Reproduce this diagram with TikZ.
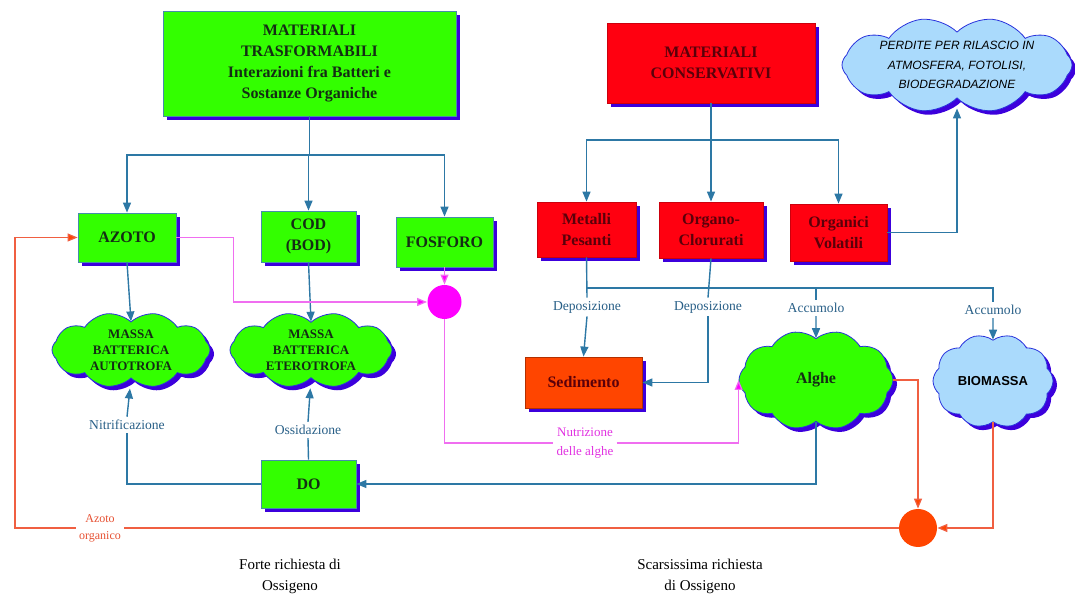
\documentclass[tikz,border=0pt]{standalone}
\usepackage{fontspec}
\setmainfont{Liberation Serif}
\newfontfamily\sansfont{Liberation Sans}
\usetikzlibrary{shapes.symbols,shadows,arrows.meta}

\definecolor{verde}{RGB}{51,255,0}
\definecolor{rosso}{RGB}{255,0,16}
\definecolor{arancio}{RGB}{255,69,0}
\definecolor{celeste}{RGB}{170,218,252}
\definecolor{ombra}{RGB}{60,0,220}
\definecolor{bordo}{RGB}{70,140,170}
\definecolor{nuvbordo}{RGB}{40,50,220}
\definecolor{linea}{RGB}{45,120,165}
\definecolor{testoverde}{RGB}{20,45,20}
\definecolor{testorosso}{RGB}{90,0,10}
\definecolor{etic}{RGB}{40,95,135}
\definecolor{rosa}{RGB}{240,110,240}
\definecolor{fucsia}{RGB}{255,0,255}
\definecolor{testorosa}{RGB}{225,50,225}
\definecolor{aranciolinea}{RGB}{240,95,65}
\definecolor{aranciotesto}{RGB}{230,80,50}

% nuvole ruotate di 90 gradi: east = sopra, west = sotto, north = sinistra, south = destra
\tikzset{
  ombreggiato/.style={drop shadow={shadow xshift=2pt, shadow yshift=-2pt, fill=ombra, opacity=1}},
  gbox/.style={draw=bordo, fill=verde, ombreggiato, align=center, inner sep=1pt,
    text=testoverde, font=\fontsize{8}{10.5}\selectfont\bfseries},
  rbox/.style={gbox, fill=rosso, draw=rosso!80!black, text=testorosso},
  nuvola/.style={cloud, cloud puffs=10, cloud puff arc=100, cloud ignores aspect,
    rotate=90, inner sep=0pt, draw=nuvbordo, fill=verde, ombreggiato},
  nuvtesto/.style={align=center, inner sep=0pt, text=testoverde,
    font=\fontsize{6.5}{8}\selectfont\bfseries},
  etichetta/.style={text=etic, align=center, inner sep=1.5pt, font=\fontsize{6.8}{8}\selectfont},
  link/.style={draw=linea, line width=0.7pt},
  arr/.style={link, -{Triangle[length=5pt,width=4pt]}},
  rosalink/.style={draw=rosa, line width=0.6pt},
  rosaarr/.style={draw=rosa, line width=0.6pt, -{Triangle[length=5pt,width=4pt,fill=fucsia]}},
  arlink/.style={draw=aranciolinea, line width=0.6pt},
  ararr/.style={arlink, -{Triangle[length=5pt,width=4pt,fill=arancio]}},
}

\begin{document}
\begin{tikzpicture}[x=0.5pt, y=-0.5pt]
\useasboundingbox (0,0) rectangle (1075,597);

% materiali di partenza
\node[gbox, minimum width=146.5pt, minimum height=52.5pt] (trasf) at (309.5,63.5)
  {MATERIALI\\TRASFORMABILI\\Interazioni fra Batteri e\\Sostanze Organiche};
\node[rbox, minimum width=104pt, minimum height=40pt] (conserv) at (711,63)
  {MATERIALI\\CONSERVATIVI};
\node[nuvola, fill=celeste, minimum width=48pt, minimum height=115pt] (perdite) at (957,65) {};
\node[nuvtesto, text=black, font=\sansfont\itshape\fontsize{6}{9.8}\selectfont] (perdite-t)
  at (perdite.center) {PERDITE PER RILASCIO IN\\ATMOSFERA, FOTOLISI,\\BIODEGRADAZIONE};

% sostanze
\node[gbox, minimum width=49pt, minimum height=24.5pt] (azoto) at (127,237.5) {AZOTO};
\node[gbox, minimum width=47.5pt, minimum height=25.5pt] (cod) at (308.5,236.5) {COD\\(BOD)};
\node[gbox, minimum width=48.5pt, minimum height=25pt] (fosforo) at (444.5,242) {FOSFORO};
\node[rbox, minimum width=49.5pt, minimum height=27.5pt] (metalli) at (586.5,229.5) {Metalli\\Pesanti};
\node[rbox, minimum width=52pt, minimum height=28pt] (organo) at (711,230) {Organo-\\Clorurati};
\node[rbox, minimum width=48.5pt, minimum height=28.5pt] (volatili) at (838.5,232.5) {Organici\\Volatili};

% masse e nodi
\node[nuvola, minimum width=38pt, minimum height=79pt] (autotrofa) at (131,350) {};
\node[nuvtesto] (autotrofa-t) at (autotrofa.center) {MASSA\\BATTERICA\\AUTOTROFA};
\node[nuvola, minimum width=38pt, minimum height=81pt] (eterotrofa) at (311,350) {};
\node[nuvtesto] (eterotrofa-t) at (eterotrofa.center) {MASSA\\BATTERICA\\ETEROTROFA};
\node[circle, fill=fucsia, minimum size=17pt, inner sep=0pt] (mcirc) at (444.5,302) {};
\node[rbox, fill=arancio, draw=arancio!70!black, text=testorosso, minimum width=58.5pt,
  minimum height=25.5pt] (sedimento) at (583.5,382.5) {Sedimento};
\node[nuvola, minimum width=50pt, minimum height=77pt] (alghe) at (816,380) {};
\node[nuvtesto, font=\fontsize{8}{10}\selectfont\bfseries] (alghe-t) at (alghe.center) {Alghe};
\node[nuvola, fill=celeste, minimum width=47pt, minimum height=60pt] (biomassa) at (993,381) {};
\node[nuvtesto, text=black, font=\sansfont\bfseries\fontsize{6.5}{8}\selectfont] (biomassa-t)
  at (biomassa.center) {BIOMASSA};
\node[gbox, minimum width=47.5pt, minimum height=24pt] (do) at (308.5,484) {DO};
\node[circle, fill=arancio, minimum size=19pt, inner sep=0pt] (ocirc) at (918,528) {};

% etichette
\node[etichetta] (dep1) at (587,307) {Deposizione};
\node[etichetta] (dep2) at (708,307) {Deposizione};
\node[etichetta] (acc1) at (816,308) {Accumolo};
\node[etichetta] (acc2) at (993,310) {Accumolo};
\node[etichetta] (nitr) at (127,425) {Nitrificazione};
\node[etichetta] (ossid) at (308,430) {Ossidazione};
\node[etichetta, text=testorosa, font=\fontsize{6.5}{9.5}\selectfont] (nutr) at (585,443) {Nutrizione\\delle alghe};
\node[etichetta, text=aranciotesto, font=\fontsize{6}{8.5}\selectfont] (azorg) at (100,528) {Azoto\\organico};
\node[align=center, font=\fontsize{7.5}{10.5}\selectfont] (forte) at (290,576) {Forte richiesta di\\Ossigeno};
\node[align=center, font=\fontsize{7.5}{10.5}\selectfont] (scars) at (700,576) {Scarsissima richiesta\\di Ossigeno};

% connessioni in alto
\coordinate (tbus) at (0,155);
\coordinate (cbus) at (0,140);
\coordinate (dbus) at (0,288);
\draw[link] (trasf.south) -- (trasf.south |- tbus);
\draw[arr] (trasf.south |- tbus) -| (azoto.north);
\draw[arr] (trasf.south |- tbus) -| (fosforo.north);
\draw[arr] (cod.north |- tbus) -- (cod.north);
\draw[link] (conserv.south) -- (conserv.south |- cbus);
\draw[arr] (conserv.south |- cbus) -| (metalli.north);
\draw[arr] (conserv.south |- cbus) -| (volatili.north);
\draw[arr] (conserv.south |- cbus) -- (organo.north);
\draw[arr, shorten >=5pt] (volatili.east) -| (perdite.west);
\draw[arr] (azoto.south) -- (autotrofa.east);
\draw[arr] (cod.south) -- (eterotrofa.east);

% deposizione e accumulo
\draw[link] (metalli.south) -- (dep1.north);
\draw[link] (organo.south) -- (dep2.north);
\draw[link] (metalli.south |- dbus) -| (acc2.north);
\draw[link] (acc1.north |- dbus) -- (acc1.north);
\draw[arr] (dep1.south) -- (sedimento.north);
\draw[arr] (dep2.south) |- (sedimento.east);
\draw[arr] (acc1.south) -- (alghe.east);
\draw[arr] (acc2.south) -- (biomassa.east);

% ossigeno
\draw[arr, shorten >=5pt] (nitr.north) -- (autotrofa.west);
\draw[link] (do.west) -| (nitr.south);
\draw[arr, shorten >=5pt] (ossid.north) -- (eterotrofa.west);
\draw[link] (do.north) -- (ossid.south);
\draw[arr] (alghe.west) |- (do.east);

% nutrienti
\draw[rosaarr] (azoto.east) -- ++(57,0) |- (mcirc.west);
\draw[rosaarr] (fosforo.south) -- (mcirc.north);
\draw[rosalink] (mcirc.south) |- (nutr.west);
\draw[rosaarr] (nutr.east) -| (alghe.north);

% azoto organico
\coordinate (oleft) at (15,528);
\draw[ararr] (alghe.south) -| (ocirc.north);
\draw[ararr] (biomassa.west) |- (ocirc.east);
\draw[arlink] (ocirc.west) -- (azorg.east);
\draw[ararr] (azorg.west) -- (oleft) |- (azoto.west);
\end{tikzpicture}
\end{document}
